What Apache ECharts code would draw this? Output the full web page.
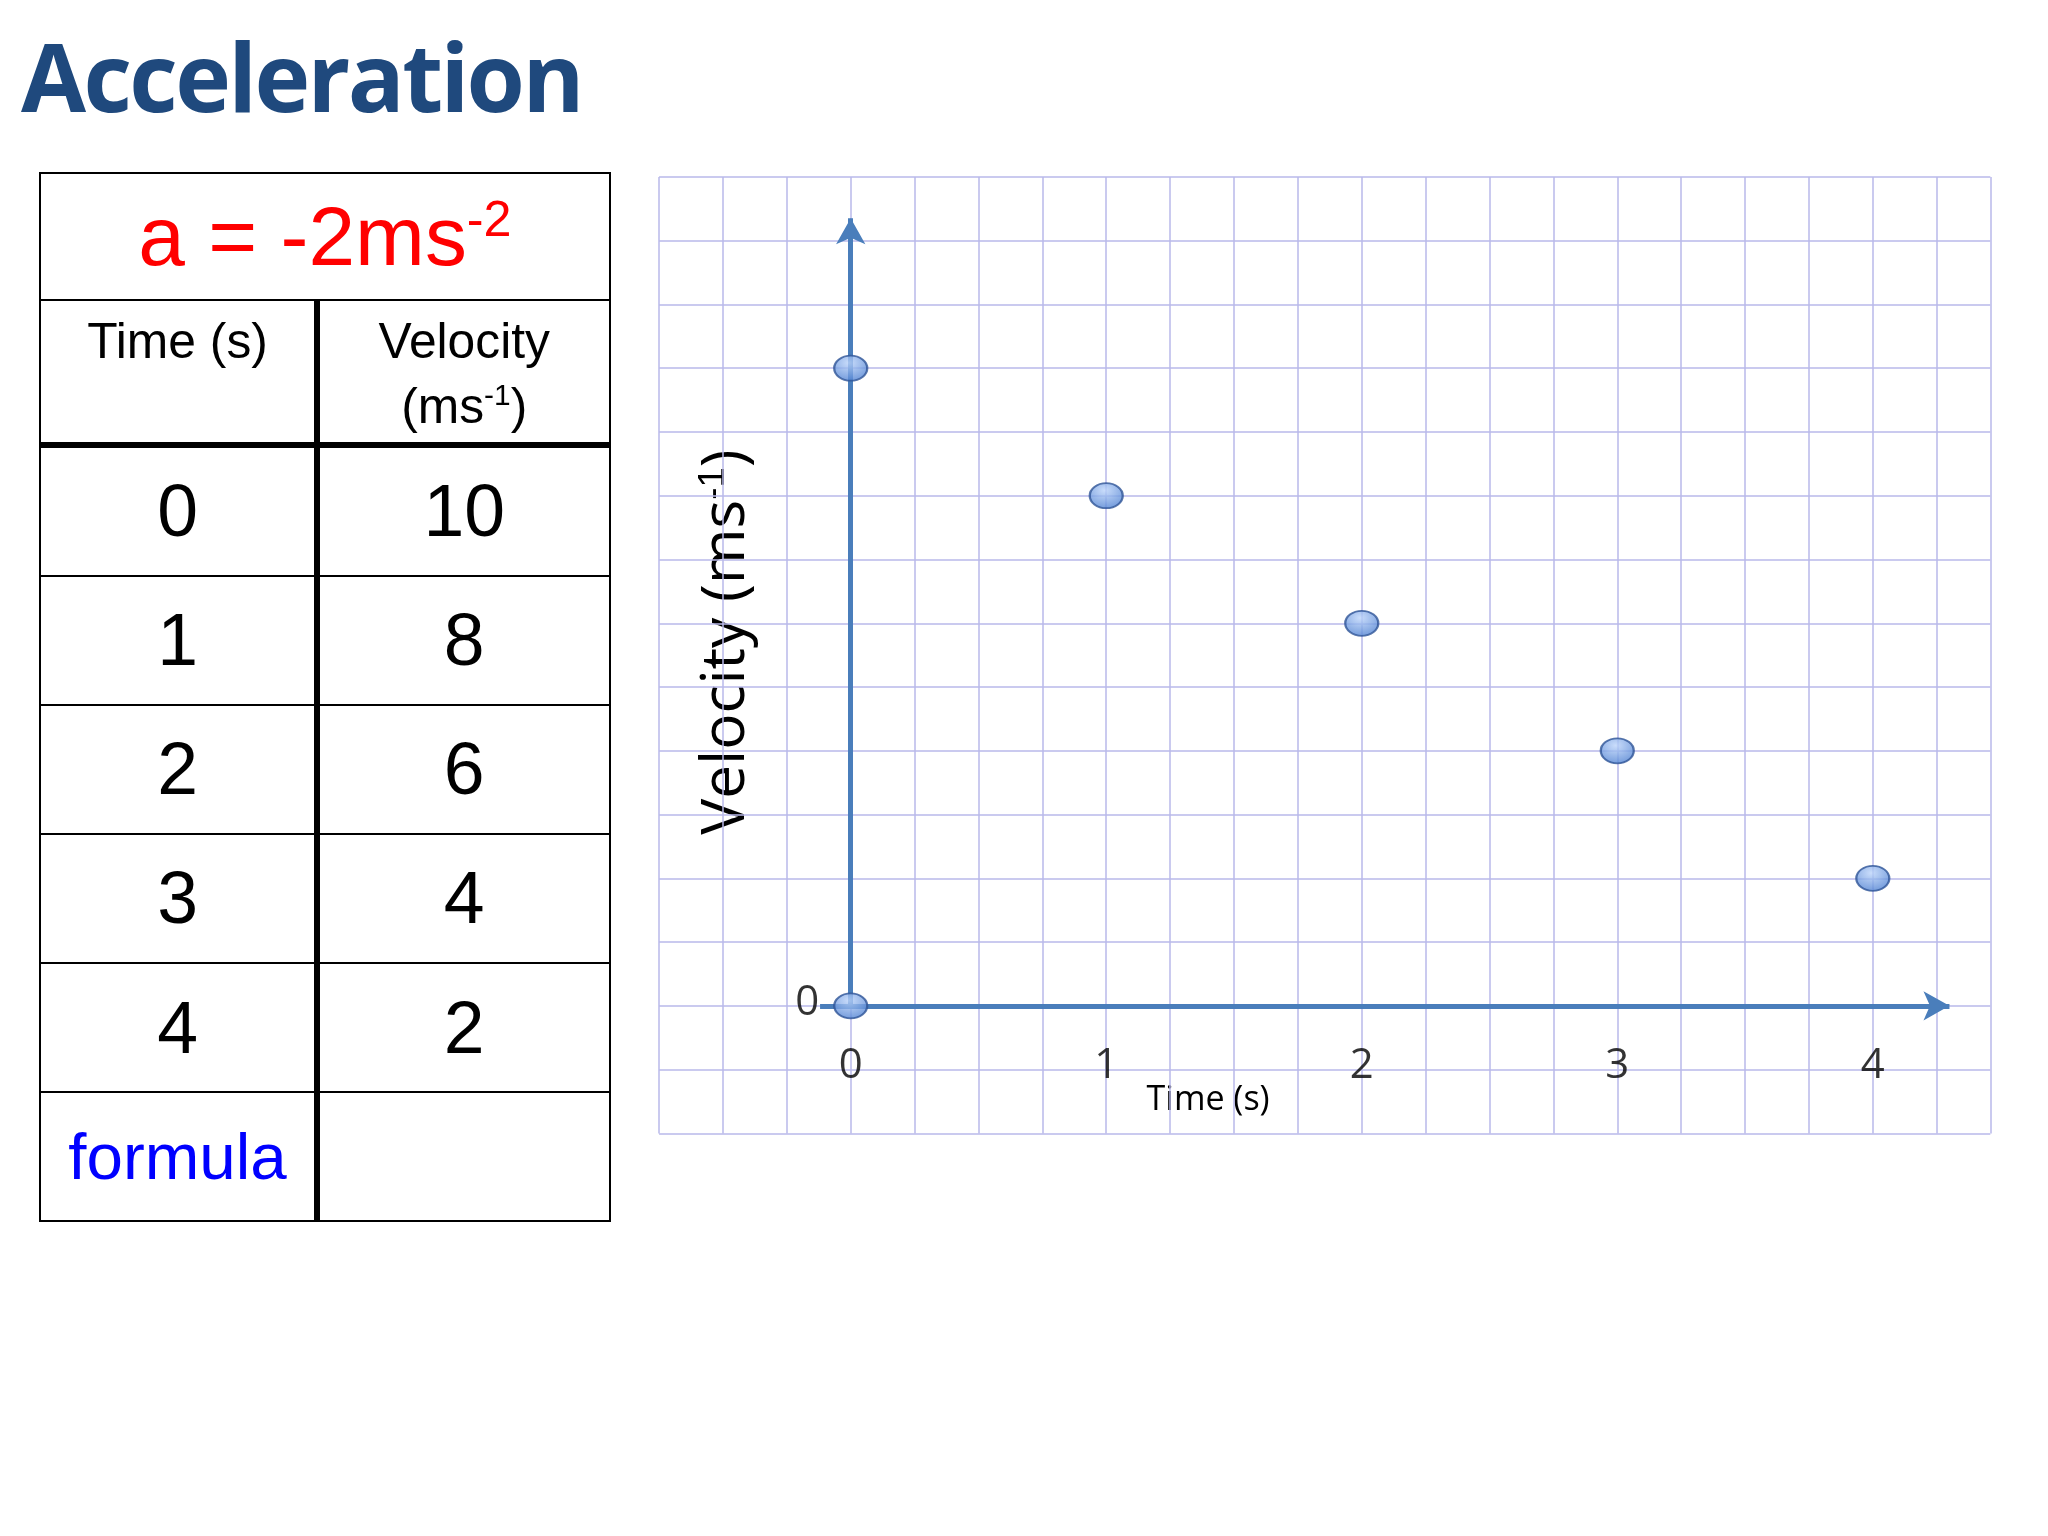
<!DOCTYPE html>
<html><head><meta charset="utf-8">
<script src="https://cdn.jsdelivr.net/npm/echarts@6/dist/echarts.min.js"></script>
<style>
:root{--s:1.3103}
body{margin:0;width:2048px;height:1536px;background:#fff;position:relative;overflow:hidden;font-family:"Open Sans",Arial,sans-serif}
#chart{position:absolute;left:0;top:0;width:2048px;height:1536px}
#title{position:absolute;left:calc(16px*var(--s));top:calc(18px*var(--s));font-size:calc(72px*var(--s));font-weight:bold;color:#1f497d;line-height:1.1;letter-spacing:calc(-2px*var(--s))}
table{position:absolute;left:calc(30px*var(--s));top:calc(131px*var(--s));width:calc(436px*var(--s));border-collapse:collapse;font-family:"Liberation Sans",Arial,sans-serif}
td{border:calc(2px*var(--s)) solid #000;text-align:center;padding:0;font-size:calc(56px*var(--s));height:calc(97px*var(--s))}
.thick{border-right:calc(5px*var(--s)) solid #000}
.hd td{font-size:calc(38px*var(--s));vertical-align:top;height:calc(101px*var(--s));border-bottom:calc(5px*var(--s)) solid #000;line-height:1.3;padding-top:calc(6px*var(--s))}
sup{font-size:60%}
</style></head><body>
<div id="chart"></div>
<div id="title">Acceleration</div>
<table>
<tr><td colspan="2" style="color:#f00;font-size:calc(64px*var(--s));height:calc(96px*var(--s))">a = -2ms<sup>-2</sup></td></tr>
<tr class="hd"><td class="thick" style="width:calc(208px*var(--s))">Time (s)</td><td>Velocity<br>(ms<sup>-1</sup>)</td></tr>
<tbody id="rows"></tbody>
<tr><td class="thick" style="color:#00f;font-size:calc(50px*var(--s))">formula</td><td></td></tr>
</table>
<script>
const times=[0,1,2,3,4];
const velocities=[10,8,6,4,2];
const xTickLabels=['0','1','2','3','4'];
const rows=document.getElementById('rows');
times.forEach((t,i)=>{rows.innerHTML+=`<tr><td class="thick">${t}</td><td>${velocities[i]}</td></tr>`;});
const s=1.3103;
const axisColor='#4a7ebb';
const chart=echarts.init(document.getElementById('chart'));
chart.setOption({
 animation:false,
 grid:{left:503*s,top:135*s,width:1016*s,height:(865-135)*s},
 xAxis:{type:'value',min:-0.75,max:4.46,interval:0.25,axisLine:{show:false},axisTick:{show:false},axisLabel:{show:false},splitLine:{lineStyle:{color:'#b8b8ea',width:1.5}}},
 yAxis:{type:'value',min:-2,max:13,interval:1,axisLine:{show:false},axisTick:{show:false},axisLabel:{show:false},splitLine:{lineStyle:{color:'#b8b8ea',width:1.5}}},
 graphic:[
  {type:'text',x:922*s,y:840*s,style:{text:'Time (s)',font:`${26*s}px "Open Sans"`,fill:'#000',align:'center',verticalAlign:'middle'}},
  {type:'text',x:555*s,y:490*s,rotation:Math.PI/2,style:{text:'Velocity (ms{sup|-1})',font:`${46*s}px "Open Sans"`,fill:'#000',align:'center',verticalAlign:'middle',rich:{sup:{fontSize:28*s,verticalAlign:'top',padding:[0,0,20*s,0]}}}}
 ],
 series:[
  {type:'scatter',data:times.map((t,i)=>[t,velocities[i]]).concat([[0,0]]),symbol:'circle',symbolSize:[33,25],z:5,
   itemStyle:{color:new echarts.graphic.RadialGradient(0.45,0.3,0.8,[{offset:0,color:'#bcd4fa'},{offset:1,color:'#3f75cc'}]),borderColor:'#2f5597',borderWidth:2},
   markLine:{silent:true,symbol:['none','arrow'],symbolSize:[22,26],label:{show:false},lineStyle:{color:axisColor,width:5,type:'solid'},
    data:[[{coord:[0,0]},{coord:[0,12.35]}],[{coord:[-0.12,0]},{coord:[4.3,0]}]]}},
  {type:'scatter',symbolSize:0,data:times.map((t,i)=>[t,-0.95]),z:6,
   label:{show:true,position:'inside',formatter:p=>xTickLabels[p.dataIndex],fontSize:32*s,color:'#000',fontFamily:'Open Sans'}},
  {type:'scatter',symbolSize:0,data:[[-0.17,0.05]],z:6,label:{show:true,position:'inside',formatter:'0',fontSize:32*s,color:'#000',fontFamily:'Open Sans'}}
 ]
});
</script>
</body></html>
